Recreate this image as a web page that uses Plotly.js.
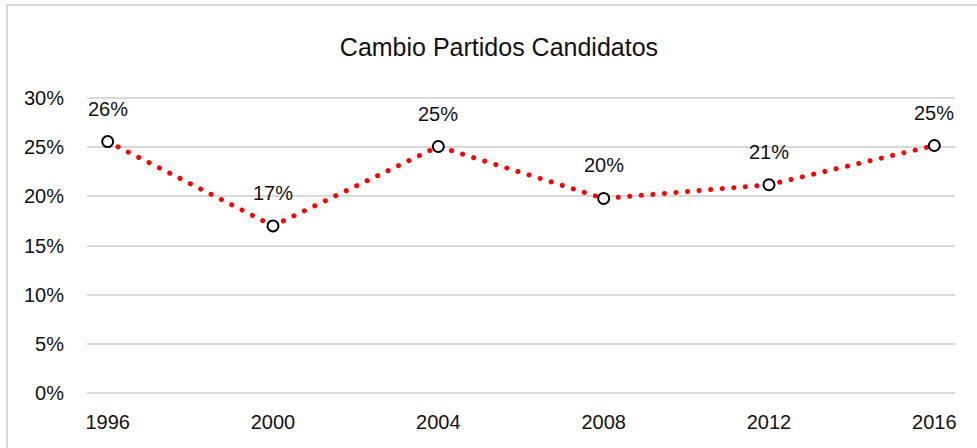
<!DOCTYPE html>
<html>
<head>
<meta charset="utf-8">
<script src="https://cdn.plot.ly/plotly-3.0.1.min.js"></script>
<style>
html,body{margin:0;padding:0;background:#fff;}
#wrap{position:relative;width:977px;height:448px;overflow:hidden;}
#chart{width:977px;height:448px;}
#frame{position:absolute;left:6px;top:4px;width:1000px;height:500px;border-left:2px solid #d9d9d9;border-top:2px solid #d9d9d9;pointer-events:none;}
</style>
</head>
<body>
<div id="wrap"><div id="chart"></div><div id="frame"></div></div>
<script>
const years = ['1996','2000','2004','2008','2012','2016'];
const values = [0.256, 0.170, 0.251, 0.198, 0.212, 0.252];
const labels = ['26%','17%','25%','20%','21%','25%'];
const yTickVals = [0, 0.05, 0.10, 0.15, 0.20, 0.25, 0.30];
const yTickText = ['0%','5%','10%','15%','20%','25%','30%'];
const chartTitle = 'Cambio Partidos Candidatos';

const FONT = 'Liberation Sans, Arial, sans-serif';

const trace = {
  x: years, y: values, type: 'scatter', mode: 'lines+markers',
  line: {color: '#ff0000', width: 5, dash: '0.1px,11.5px'},
  marker: {symbol: 'circle', size: 11, color: '#ffffff', line: {color: '#000000', width: 2}},
  hoverinfo: 'skip'
};

// category axis: annotation x is the category's index
const annotations = years.map((yr, i) => ({
  x: i, y: values[i], xref: 'x', yref: 'y', text: labels[i],
  showarrow: false, yshift: 33, yanchor: 'middle', xanchor: 'center',
  font: {family: FONT, size: 20, color: '#111'}
}));

const layout = {
  width: 977, height: 448,
  margin: {l: 87, r: 22, t: 97, b: 54},
  paper_bgcolor: '#fff', plot_bgcolor: '#fff',
  showlegend: false,
  title: {text: chartTitle, x: 0.5107, xanchor: 'center', y: 1 - 47/448, yanchor: 'middle',
          font: {family: FONT, size: 25, color: '#111'}},
  xaxis: {type: 'category', range: [-0.125, 5.125], showgrid: false, zeroline: false, showline: false,
          ticks: 'outside', ticklen: 10, tickcolor: 'rgba(0,0,0,0)',
          tickfont: {family: FONT, size: 20, color: '#111'}},
  yaxis: {range: [-0.0015, 0.3015], tickvals: yTickVals, ticktext: yTickText,
          showgrid: true, gridcolor: '#d9d9d9', gridwidth: 2, zeroline: false, showline: false,
          ticks: 'outside', ticklen: 18, tickcolor: 'rgba(0,0,0,0)',
          tickfont: {family: FONT, size: 20, color: '#111'}},
  annotations: annotations
};

Plotly.newPlot('chart', [trace], layout, {staticPlot: true}).then(() => {
  document.querySelectorAll('.js-line').forEach(p => {
    p.style.strokeLinecap = 'round';
  });
});
</script>
</body>
</html>
